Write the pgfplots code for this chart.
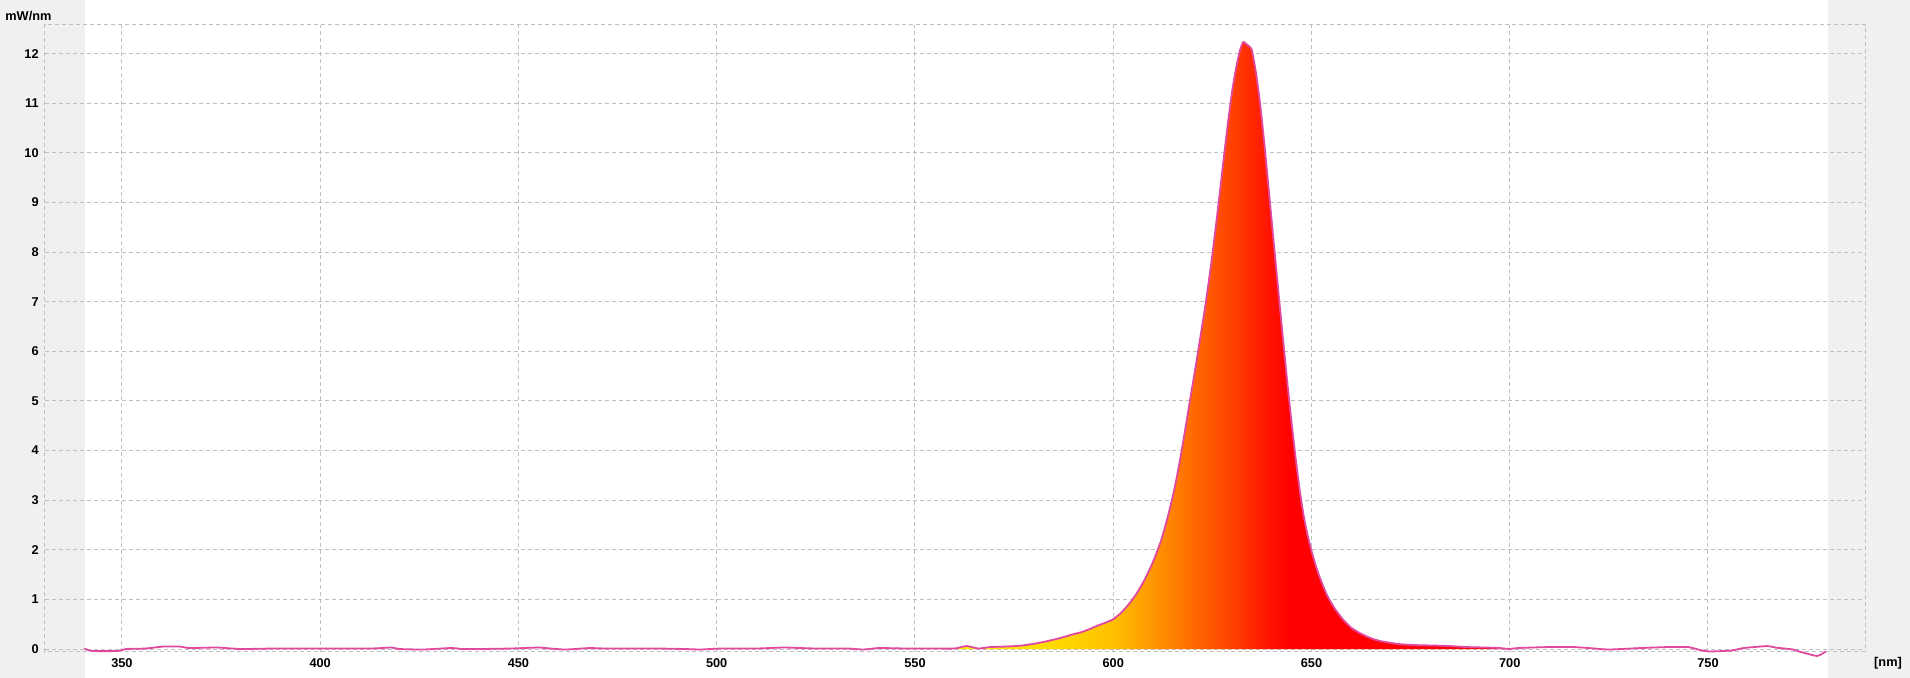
\documentclass[border=0pt]{standalone}
\usepackage{fontspec}
\setmainfont{Liberation Sans}
\usepackage{pgfplots}
\usepackage{pgfplotstable}
\pgfplotsset{compat=1.18}
\usetikzlibrary{backgrounds}
\definecolor{bggray}{RGB}{240,240,240}
\definecolor{gridgray}{RGB}{192,192,192}
\definecolor{linepink}{RGB}{226,72,160}
\definecolor{sA}{RGB}{255,240,0}
\definecolor{sB}{RGB}{255,224,0}
\definecolor{sC}{RGB}{255,210,0}
\definecolor{sD}{RGB}{255,192,0}
\definecolor{sE}{RGB}{255,170,0}
\definecolor{sF}{RGB}{255,150,0}
\definecolor{sG}{RGB}{255,128,0}
\definecolor{sH}{RGB}{255,106,0}
\definecolor{sI}{RGB}{255,85,0}
\definecolor{sJ}{RGB}{255,64,0}
\definecolor{sK}{RGB}{255,40,0}
\definecolor{sL}{RGB}{255,16,0}
\definecolor{sM}{RGB}{255,0,0}
% fill path spans 560..700 nm -> 25bp..75bp
\pgfdeclarehorizontalshading{spectrum}{100bp}{%
color(0bp)=(sA); color(25bp)=(sA); color(32.14bp)=(sB); color(35.71bp)=(sC);
color(39.29bp)=(sD); color(41.07bp)=(sE); color(42.86bp)=(sF); color(44.64bp)=(sG);
color(46.43bp)=(sH); color(48.21bp)=(sI); color(50bp)=(sJ); color(51.79bp)=(sK);
color(53.57bp)=(sL); color(55.36bp)=(sM); color(75bp)=(sM); color(100bp)=(sM)}

\pgfplotstableread{
nm val
340.5 0.01
342.5 -0.04
349 -0.04
351 0.00
356 0.01
360.5 0.05
364.5 0.05
367 0.02
374 0.03
380 0.00
388 0.01
395 0.01
405 0.01
413 0.01
418 0.03
420 0.00
426 -0.01
433 0.02
436 0.00
440 0.00
448 0.01
455 0.03
458 0.01
462 -0.01
468 0.02
472 0.01
485 0.01
492 0.00
496 -0.01
501 0.01
510 0.01
517 0.03
525 0.01
533 0.01
537 -0.01
541 0.02
548 0.01
555 0.01
560 0.01
563 0.06
566 0.01
569 0.04
573 0.05
577 0.07
581 0.12
584 0.17
587 0.23
590 0.30
592 0.34
594 0.40
596 0.47
598 0.53
600 0.60
602 0.73
604 0.91
606 1.13
608 1.41
610 1.75
612 2.17
613 2.44
614 2.74
615 3.07
616 3.45
617 3.88
618 4.35
619 4.84
620 5.32
621 5.80
622 6.30
623 6.80
624 7.35
625 7.95
626 8.60
627 9.28
628 9.98
629 10.65
630 11.25
631 11.72
632 12.08
632.8 12.24
633.5 12.20
634.9 12.09
636 11.62
637 11.02
638 10.28
639 9.45
640 8.60
641 7.76
642 6.92
643 6.10
644 5.30
645 4.55
646 3.85
647 3.22
648 2.70
649 2.30
650 1.98
651 1.70
652 1.46
654 1.07
656 0.80
658 0.59
660 0.43
662 0.33
664 0.25
666 0.19
668 0.15
672 0.10
676 0.08
681 0.07
685 0.06
689 0.04
694 0.03
697.5 0.02
700 0.00
702 0.02
710 0.04
716 0.04
720 0.02
725 -0.01
733 0.02
740 0.04
745 0.04
748 -0.02
750.5 -0.05
756 -0.03
759 0.02
765 0.06
767 0.03
771.5 -0.01
773 -0.05
777.5 -0.14
779.7 -0.05
}\spec

\begin{document}
\begin{tikzpicture}
\begin{axis}[
  scale only axis, width=910bp, height=313.25bp,
  xmin=330.6, xmax=789.6, ymin=-0.05, ymax=12.58,
  xtick={350,400,...,750}, ytick={0,1,...,12},
  grid=major,
  major grid style={gridgray, dash pattern=on 2bp off 1.5bp, line width=0.5bp},
  axis line style={gridgray, dash pattern=on 2bp off 1.5bp, line width=0.5bp},
  major tick length=0pt,
  tick label style={font=\fontsize{6.4}{7}\selectfont\bfseries, inner sep=0pt, text=black},
  yticklabel style={anchor=east, xshift=-3bp},
  xticklabel style={anchor=north, yshift=-3.2bp},
  /pgf/number format/assume math mode=true,
  clip=false,
]
\coordinate (wl) at (axis cs:340.6,0);
\coordinate (wr) at (axis cs:780.3,0);
\addplot[draw=none, shading=spectrum, smooth, tension=0.3, restrict x to domain=560:700] table[x=nm,y=val] {\spec} \closedcycle;
\addplot[linepink, line width=0.9bp, line join=round, smooth, tension=0.3] table[x=nm,y=val] {\spec};
\end{axis}
\path (current axis.south west) ++(-22.5bp,-13.25bp) coordinate (bbll);
\path (current axis.north east) ++(22.5bp,12.5bp) coordinate (bbur);
\pgfresetboundingbox
\useasboundingbox (bbll) rectangle (bbur);
\begin{pgfonlayer}{background}
\fill[bggray] (bbll) rectangle (bbur);
\fill[white] (wl |- bbll) rectangle (wr |- bbur);
\end{pgfonlayer}
\path (bbll |- bbur) ++(2.5bp,-8bp) node[anchor=west, inner sep=0pt, font=\fontsize{6.4}{7}\selectfont\bfseries] {mW/nm};
\path (bbur |- bbll) ++(-11bp,7.5bp) node[anchor=center, inner sep=0pt, font=\fontsize{6.4}{7}\selectfont\bfseries] {[nm]};
\end{tikzpicture}
\end{document}
